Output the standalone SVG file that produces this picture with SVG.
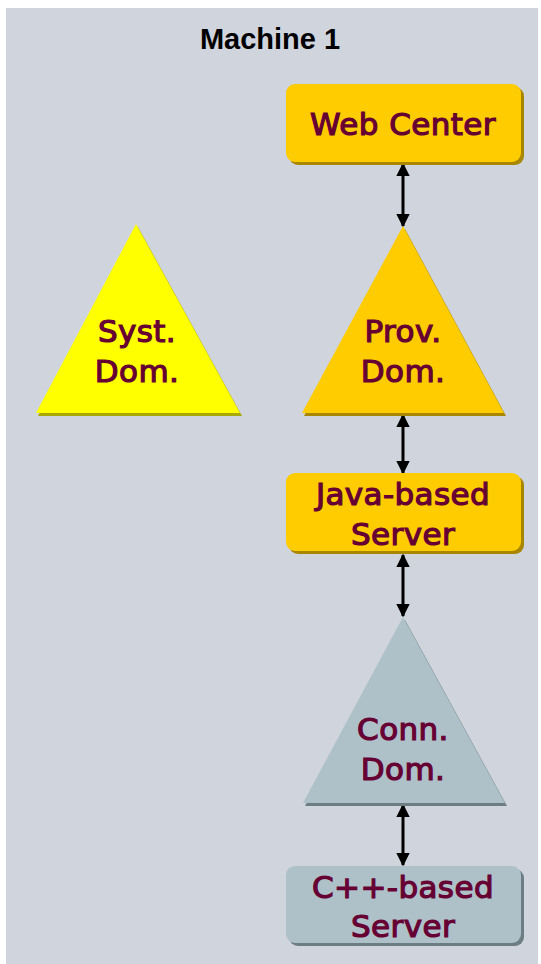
<svg xmlns="http://www.w3.org/2000/svg" width="541" height="964" viewBox="0 0 541 964">
  <style>
    .lbl { font-family: "DejaVu Sans", Verdana, sans-serif; font-weight: normal; font-size: 31px; letter-spacing: 0.4px; fill: #660033; stroke: #660033; stroke-width: 1.2px; text-anchor: middle; }
    .title { font-family: "Liberation Sans", Arial, sans-serif; font-weight: bold; font-size: 29px; fill: #000; text-anchor: middle; }
    .orange { fill: #ffcc00; }
    .orange-sh { fill: #a88600; }
    .yellow { fill: #ffff00; }
    .yellow-sh { fill: #a8a800; }
    .steel { fill: #aec1c8; }
    .steel-sh { fill: #6c7d84; }
    .conn { stroke: #000; stroke-width: 3; fill: none; marker-start: url(#head); marker-end: url(#head); }
  </style>
  <defs>
    <marker id="head" viewBox="0 0 10 10" refX="9" refY="5" markerWidth="4.5" markerHeight="4.5" orient="auto-start-reverse" markerUnits="strokeWidth">
      <path d="M0,0 L10,5 L0,10 z" fill="#000"/>
    </marker>
  </defs>

  <rect width="541" height="964" fill="#ffffff"/>
  <rect x="6" y="8" width="532" height="956" fill="#d0d4dc"/>
  <text class="title" x="270" y="49">Machine 1</text>

  <g id="conns">
    <line class="conn" x1="403" y1="164" x2="403" y2="226"/>
    <line class="conn" x1="403" y1="415" x2="403" y2="473"/>
    <line class="conn" x1="403" y1="555" x2="403" y2="616"/>
    <line class="conn" x1="403" y1="805" x2="403" y2="865"/>
  </g>

  <g id="web-center">
    <rect class="orange-sh" x="289" y="87" width="235" height="78" rx="9"/>
    <rect class="orange" x="286" y="84" width="235" height="78" rx="9"/>
    <text class="lbl" x="403" y="135">Web Center</text>
  </g>

  <g id="syst-dom">
    <polygon class="yellow-sh" points="138,227 242,416 38,416"/>
    <polygon class="yellow" points="136,224 240,413 36,413"/>
    <text class="lbl" x="137" y="342">Syst.</text>
    <text class="lbl" x="137" y="382">Dom.</text>
  </g>

  <g id="prov-dom">
    <polygon class="orange-sh" points="405,229 506,416 304,416"/>
    <polygon class="orange" points="403,226 504,413 302,413"/>
    <text class="lbl" x="403" y="342">Prov.</text>
    <text class="lbl" x="403" y="382">Dom.</text>
  </g>

  <g id="java-server">
    <rect class="orange-sh" x="289" y="476" width="235" height="78" rx="9"/>
    <rect class="orange" x="286" y="473" width="235" height="78" rx="9"/>
    <text class="lbl" x="403" y="505">Java-based</text>
    <text class="lbl" x="403" y="545">Server</text>
  </g>

  <g id="conn-dom">
    <polygon class="steel-sh" points="405,620 507,806 305,806"/>
    <polygon class="steel" points="403,617 505,803 303,803"/>
    <text class="lbl" x="403" y="740">Conn.</text>
    <text class="lbl" x="403" y="780">Dom.</text>
  </g>

  <g id="cpp-server">
    <rect class="steel-sh" x="289" y="869" width="235" height="77" rx="9"/>
    <rect class="steel" x="286" y="866" width="235" height="77" rx="9"/>
    <text class="lbl" x="403" y="898">C++-based</text>
    <text class="lbl" x="403" y="937">Server</text>
  </g>
</svg>
